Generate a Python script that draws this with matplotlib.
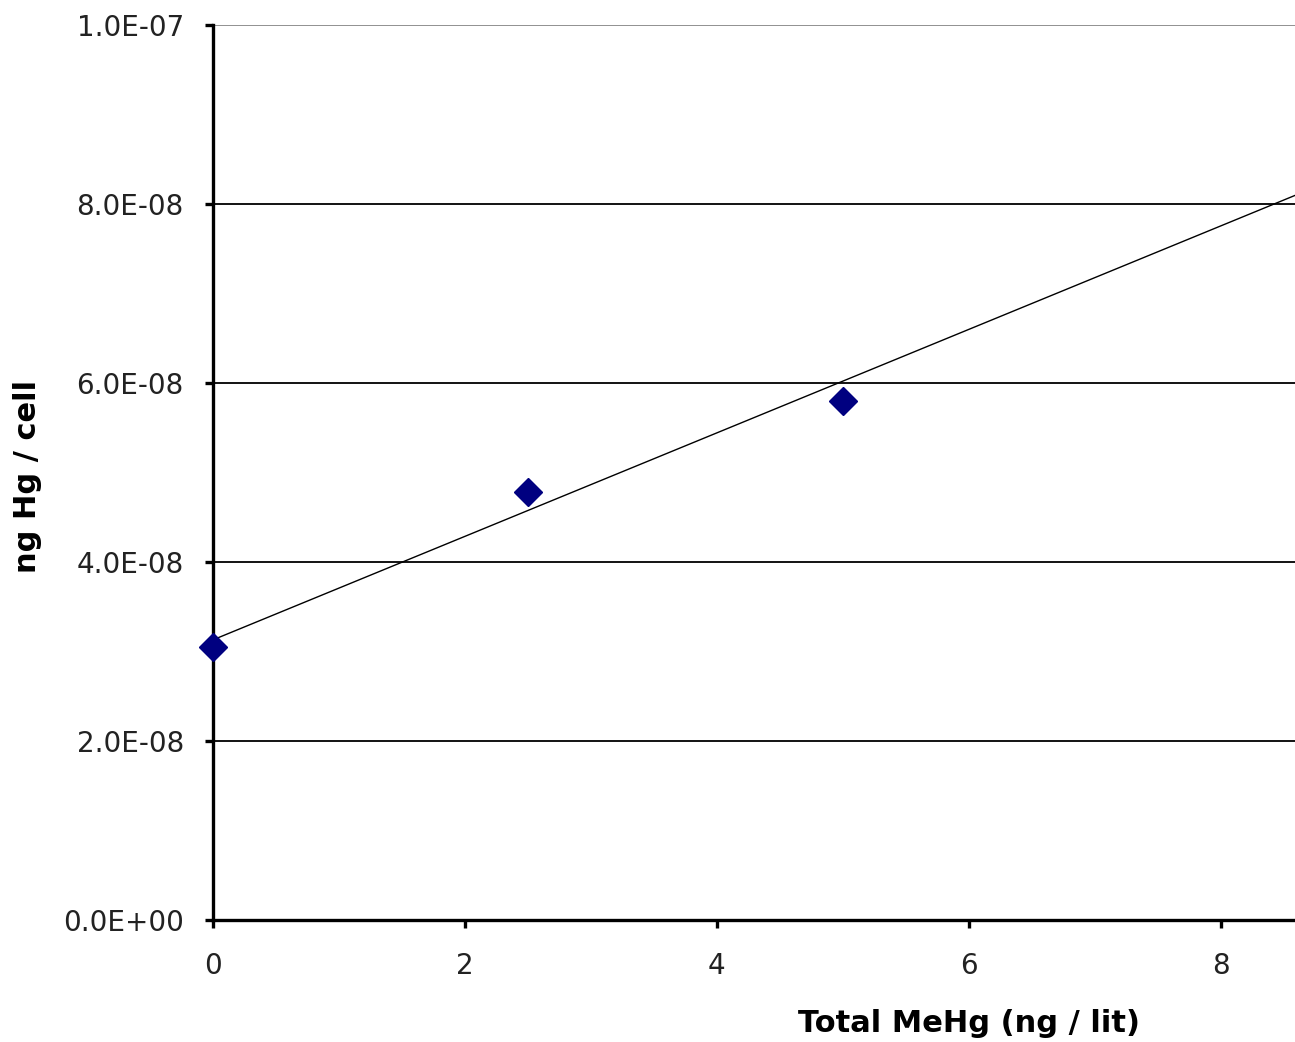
import numpy as np
import matplotlib
matplotlib.use("Agg")
import matplotlib.pyplot as plt
from matplotlib.ticker import FuncFormatter

# measured MeHg uptake
total_mehg = [0.0, 2.5, 5.0]            # ng / lit
hg_per_cell = [3.05e-8, 4.78e-8, 5.80e-8]  # ng Hg / cell

# linear trendline (intercept, slope)
trend_intercept = 3.13e-8
trend_slope = 0.578e-8

x_ticks = [0, 2, 4, 6, 8]
y_ticks = [0.0, 2e-8, 4e-8, 6e-8, 8e-8, 1e-7]

plt.rcParams['font.family'] = ['DejaVu Sans']

fig = plt.figure(figsize=(12.95, 10.42), dpi=100)
ax = fig.add_axes([0.1645, 0.1171, 0.8355, 0.859])

x_max = 8.59
ax.set_xlim(0, x_max)
ax.set_ylim(0, 1e-7)

# grid
ax.set_yticks(y_ticks)
ax.set_xticks(x_ticks)
ax.yaxis.grid(True, color='black', lw=1.3)
ax.get_ygridlines()[-1].set_color('#888888')
ax.set_axisbelow(True)

# trendline over the full visible range
tx = np.array([0, x_max])
ax.plot(tx, trend_intercept + trend_slope * tx, color='black', lw=1.0, zorder=3)

ax.plot(total_mehg, hg_per_cell, linestyle='none', marker='D', markersize=14,
        color='#000080', zorder=4, clip_on=False)

ax.yaxis.set_major_formatter(FuncFormatter(lambda v, pos: f"{v:.1E}"))

for side in ['top', 'right']:
    ax.spines[side].set_visible(False)
for side in ['left', 'bottom']:
    ax.spines[side].set_linewidth(2.4)
    ax.spines[side].set_color('black')

ax.tick_params(axis='both', direction='out', length=6, width=2.4,
               labelsize=20, labelcolor='#222222')
ax.tick_params(axis='y', pad=15)
ax.tick_params(axis='x', pad=17)

label_font = dict(fontsize=22, fontweight='bold')
ax.set_xlabel('Total MeHg (ng / lit)', **label_font)
ax.xaxis.set_label_coords(6 / x_max, -0.1)
ax.set_ylabel('ng Hg / cell', **label_font)
ax.yaxis.set_label_coords(-0.158, 0.495)

fig.savefig('out.png', dpi=100)
